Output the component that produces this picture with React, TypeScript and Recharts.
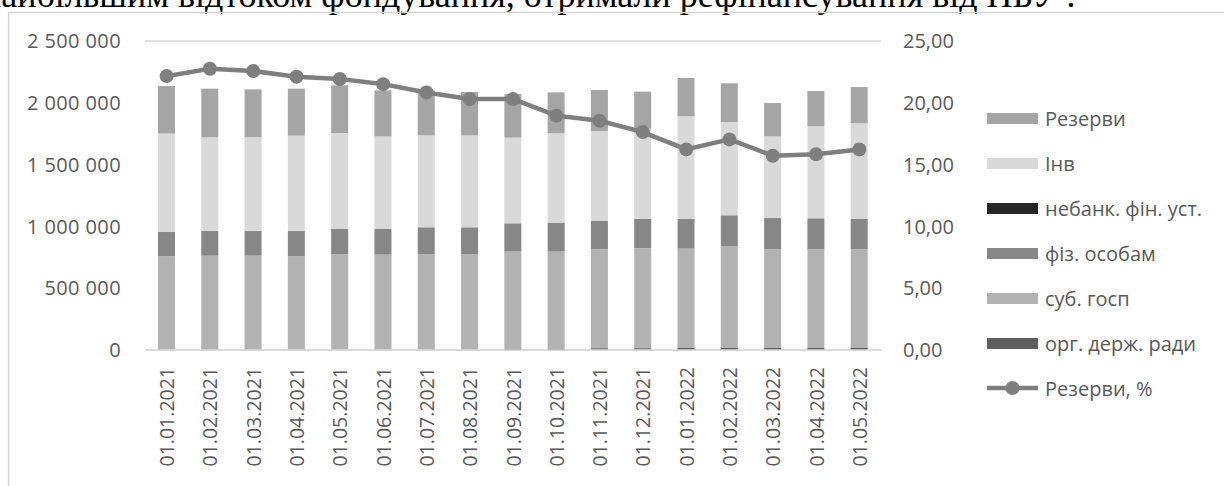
import { ComposedChart, Bar, Line, XAxis, YAxis, CartesianGrid } from 'recharts';

const categories = [
  '01.01.2021', '01.02.2021', '01.03.2021', '01.04.2021', '01.05.2021', '01.06.2021',
  '01.07.2021', '01.08.2021', '01.09.2021', '01.10.2021', '01.11.2021', '01.12.2021',
  '01.01.2022', '01.02.2022', '01.03.2022', '01.04.2022', '01.05.2022',
];

// stacked from the bottom up
const orgDerzh = [4000, 4000, 4000, 4000, 4000, 4000, 4000, 4000, 8000, 12000, 15000, 15000, 20000, 20000, 20000, 20000, 20000];
const subGosp = [753000, 759000, 759000, 753000, 769000, 768000, 769000, 769000, 790000, 788000, 799000, 809000, 800000, 818000, 794000, 794000, 794000];
const fizOsob = [197000, 199000, 199000, 205000, 208000, 209000, 219000, 219000, 226000, 230000, 232000, 238000, 239000, 251000, 253000, 251000, 248000];
const nebank = [500, 500, 500, 500, 500, 500, 500, 500, 500, 500, 500, 500, 500, 500, 500, 500, 500];
const inv = [796000, 760000, 760000, 772000, 774000, 747000, 744000, 744000, 694000, 722000, 725000, 728000, 833000, 755000, 661000, 744000, 771000];
const rezervy = [385000, 392000, 386000, 380000, 386000, 372000, 364000, 351000, 352000, 332000, 332000, 300000, 308000, 313000, 270000, 286000, 294000];
const rezervyPct = [22.16, 22.76, 22.57, 22.11, 21.92, 21.51, 20.84, 20.3, 20.3, 18.96, 18.55, 17.63, 16.23, 17.04, 15.72, 15.83, 16.23];

const leftTicks = [0, 500000, 1000000, 1500000, 2000000, 2500000];
const rightTicks = [0, 5, 10, 15, 20, 25];

const data = categories.map((name, i) => ({
  name,
  org: orgDerzh[i],
  sub: subGosp[i],
  fiz: fizOsob[i],
  nebank: nebank[i],
  inv: inv[i],
  rez: rezervy[i],
  pct: rezervyPct[i],
}));

const FONT = '"Open Sans", sans-serif';
const TEXT = '#595959';
const LINE = '#7f7f7f';

const legendItems = [
  { label: 'Резерви', color: '#a5a5a5' },
  { label: 'Інв', color: '#d9d9d9' },
  { label: 'небанк. фін. уст.', color: '#262626' },
  { label: 'фіз. особам', color: '#878787' },
  { label: 'суб. госп', color: '#b2b2b2' },
  { label: 'орг. держ. ради', color: '#5e5e5e' },
];

const fmtThousands = (v: number) => String(v).replace(/\B(?=(\d{3})+(?!\d))/g, ' ');
const fmtPct = (v: number) => v.toFixed(2).replace('.', ',');

const DateTick = ({ x, y, payload }: any) => (
  <text
    transform={`translate(${x},${y}) rotate(-90)`}
    textAnchor="end"
    dominantBaseline="central"
    fill={TEXT}
    fontSize={19.5}
    fontFamily={FONT}
  >
    {payload.value}
  </text>
);

export default function App() {
  return (
    <div style={{ position: 'absolute', left: 0, top: 0, width: 1224, height: 486, overflow: 'hidden', background: '#fff' }}>
      <svg width={1224} height={486} style={{ position: 'absolute', left: 0, top: 0 }}>
        <text x={-18} y={7} fontFamily='"Liberation Serif", serif' fontSize={36} fill="#000">
          найбільшим відтоком фондування, отримали рефінансування від НБУ .
        </text>
        <line x1={8.5} y1={12} x2={8.5} y2={486} stroke="#d4d4d4" strokeWidth={1.3} />
        <line x1={8} y1={12.5} x2={1224} y2={12.5} stroke="#d4d4d4" strokeWidth={1.3} />
      </svg>

      <div style={{ position: 'absolute', left: 0, top: 0 }}>
        <ComposedChart
          width={1224}
          height={486}
          data={data}
          margin={{ top: 41, right: 243, bottom: 16, left: 0 }}
          barCategoryGap="30%"
        >
          <CartesianGrid horizontal vertical={false} stroke="#d9d9d9" strokeWidth={1.5} />
          <XAxis
            dataKey="name"
            height={120}
            axisLine={{ stroke: '#d9d9d9', strokeWidth: 1.5 }}
            tickLine={false}
            tickSize={0}
            tickMargin={17}
            interval={0}
            tick={<DateTick />}
          />
          <YAxis
            yAxisId="left"
            width={145}
            domain={[0, 2500000]}
            ticks={leftTicks}
            tickFormatter={fmtThousands}
            axisLine={false}
            tickLine={false}
            tickSize={0}
            tickMargin={24}
            tick={{ fill: TEXT, fontSize: 20, fontFamily: FONT, letterSpacing: 0.4 }}
          />
          <YAxis
            yAxisId="right"
            orientation="right"
            width={100}
            domain={[0, 25]}
            ticks={rightTicks}
            tickFormatter={fmtPct}
            axisLine={false}
            tickLine={false}
            tickSize={0}
            tickMargin={22}
            tick={{ fill: TEXT, fontSize: 20, fontFamily: FONT, textAnchor: 'start' }}
          />
          <Bar yAxisId="left" dataKey="org" stackId="a" fill="#5e5e5e" isAnimationActive={false} />
          <Bar yAxisId="left" dataKey="sub" stackId="a" fill="#b2b2b2" isAnimationActive={false} />
          <Bar yAxisId="left" dataKey="fiz" stackId="a" fill="#878787" isAnimationActive={false} />
          <Bar yAxisId="left" dataKey="nebank" stackId="a" fill="#262626" isAnimationActive={false} />
          <Bar yAxisId="left" dataKey="inv" stackId="a" fill="#d9d9d9" isAnimationActive={false} />
          <Bar yAxisId="left" dataKey="rez" stackId="a" fill="#a5a5a5" isAnimationActive={false} />
          <Line
            yAxisId="right"
            type="linear"
            dataKey="pct"
            stroke={LINE}
            strokeWidth={4.5}
            dot={{ r: 7, fill: LINE, stroke: 'none' }}
            activeDot={false}
            isAnimationActive={false}
          />
        </ComposedChart>
      </div>

      <div style={{ position: 'absolute', left: 987, top: 0, fontFamily: FONT, fontSize: 20, color: TEXT }}>
        {legendItems.map((item, i) => (
          <div key={item.label} style={{ position: 'absolute', top: 118 + i * 45 - 14, left: 0, height: 28, display: 'flex', alignItems: 'center', whiteSpace: 'nowrap' }}>
            <div style={{ width: 51, height: 11, background: item.color, marginRight: 7 }} />
            <span>{item.label}</span>
          </div>
        ))}
        <div style={{ position: 'absolute', top: 388 - 14, left: 0, height: 28, display: 'flex', alignItems: 'center', whiteSpace: 'nowrap' }}>
          <svg width={51} height={16} style={{ marginRight: 7 }}>
            <line x1={0} y1={8} x2={51} y2={8} stroke={LINE} strokeWidth={4.5} />
            <circle cx={25.5} cy={8} r={7} fill={LINE} />
          </svg>
          <span>Резерви, %</span>
        </div>
      </div>
    </div>
  );
}
